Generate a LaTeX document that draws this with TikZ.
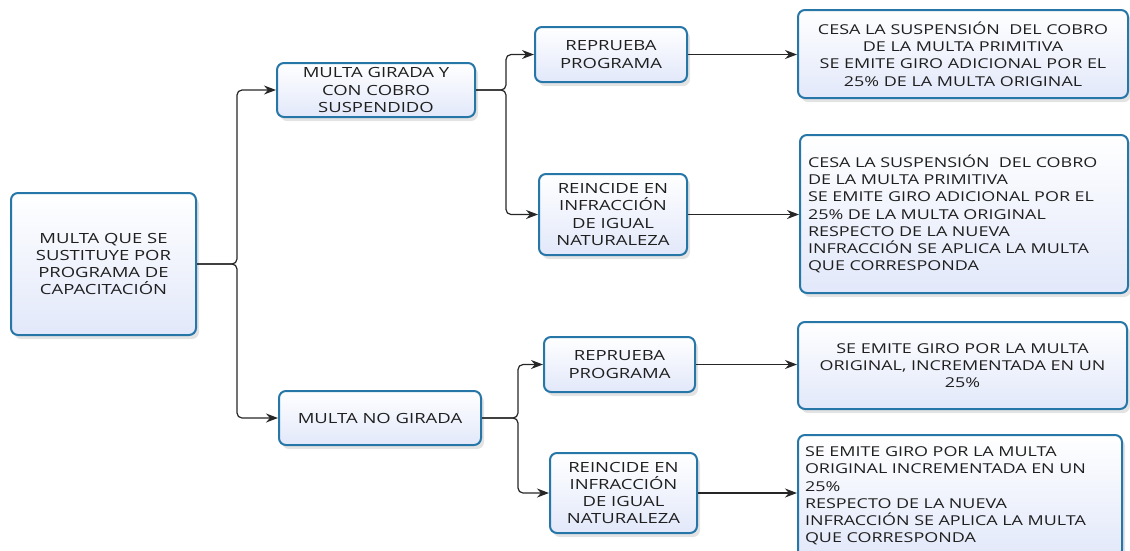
\documentclass[tikz,border=0pt]{standalone}
\usepackage{fontspec}
\setmainfont{Open Sans}[FakeStretch=1.32]
\usetikzlibrary{arrows.meta,shadows,calc}
\definecolor{boxline}{RGB}{38,118,168}
\definecolor{boxfill}{RGB}{226,232,250}
\tikzset{
  box/.style={draw=boxline, line width=2pt, rounded corners=7pt,
    top color=white, bottom color=boxfill,
    drop shadow={opacity=0.22, shadow xshift=3pt, shadow yshift=-4pt},
    inner sep=0pt, text=black!88},
  cbox/.style={box, align=center, font=\fontsize{14}{17.3}\selectfont},
  obox/.style={box, align=center, font=\fontsize{13.6}{17.2}\selectfont},
  lbox/.style={box, align=left, font=\fontsize{13.6}{17.2}\selectfont},
  conn/.style={line width=1.2pt, black!85, rounded corners=5pt},
  arr/.style={conn, -{Stealth[length=12pt,width=9pt]}}
}
\begin{document}
\begin{tikzpicture}[x=1pt,y=-1pt]
\useasboundingbox (0,0) rectangle (1130,550);
\clip (0,0) rectangle (1130,550);
\node[cbox, minimum width=185, minimum height=142] (root) at (103.5,264) {MULTA QUE SE\\SUSTITUYE POR\\PROGRAMA DE\\CAPACITACIÓN};
\node[cbox, minimum width=198, minimum height=54] (b1) at (376,90) {MULTA GIRADA Y\\CON COBRO\\SUSPENDIDO};
\node[cbox, minimum width=202, minimum height=54] (b2) at (380,418) {MULTA NO GIRADA};
\node[cbox, minimum width=152, minimum height=55] (r1) at (611,54.5) {REPRUEBA\\PROGRAMA};
\node[cbox, minimum width=148, minimum height=81] (i1) at (613,214.5) {REINCIDE EN\\INFRACCIÓN\\DE IGUAL\\NATURALEZA};
\node[cbox, minimum width=151, minimum height=55] (r2) at (619.5,364.5) {REPRUEBA\\PROGRAMA};
\node[cbox, minimum width=147, minimum height=80] (i2) at (623.5,493) {REINCIDE EN\\INFRACCIÓN\\DE IGUAL\\NATURALEZA};
\node[obox, minimum width=330, minimum height=88] (o1) at (963,54) {CESA LA SUSPENSIÓN\ \ DEL COBRO\\DE LA MULTA PRIMITIVA\\SE EMITE GIRO ADICIONAL POR EL\\25\% DE LA MULTA ORIGINAL};
\node[lbox, minimum width=328, minimum height=158, text width=312] (o2) at (964,214) {CESA LA SUSPENSIÓN\ \ DEL COBRO\\DE LA MULTA PRIMITIVA\\SE EMITE GIRO ADICIONAL POR EL\\25\% DE LA MULTA ORIGINAL\\RESPECTO DE LA NUEVA\\INFRACCIÓN SE APLICA LA MULTA\\QUE CORRESPONDA};
\node[obox, minimum width=329, minimum height=87] (o3) at (962.5,365.5) {SE EMITE GIRO POR LA MULTA\\ORIGINAL, INCREMENTADA EN UN\\25\%};
\node[lbox, minimum width=324, minimum height=122, text width=310] (o4) at (960,496) {SE EMITE GIRO POR LA MULTA\\ORIGINAL INCREMENTADA EN UN\\25\%\\RESPECTO DE LA NUEVA\\INFRACCIÓN SE APLICA LA MULTA\\QUE CORRESPONDA};
% connectors
\coordinate (j0) at ($(root.east)+(40,0)$);
\coordinate (j1) at ($(b1.east)+(30,0)$);
\coordinate (j2) at ($(b2.east)+(36,0)$);
\draw[arr] (root.east) -- (j0) |- (b1.west);
\draw[arr] (root.east) -- (j0) |- (b2.west);
\draw[arr] (b1.east) -- (j1) |- (r1.west);
\draw[arr] (b1.east) -- (j1) |- (i1.west);
\draw[arr] (b2.east) -- (j2) |- (r2.west);
\draw[arr] (b2.east) -- (j2) |- (i2.west);
\draw[arr] (r1.east) -- (r1.east -| o1.west);
\draw[arr] (i1.east) -- (i1.east -| o2.west);
\draw[arr] (r2.east) -- (r2.east -| o3.west);
\draw[arr] (i2.east) -- (i2.east -| o4.west);
\end{tikzpicture}
\end{document}
